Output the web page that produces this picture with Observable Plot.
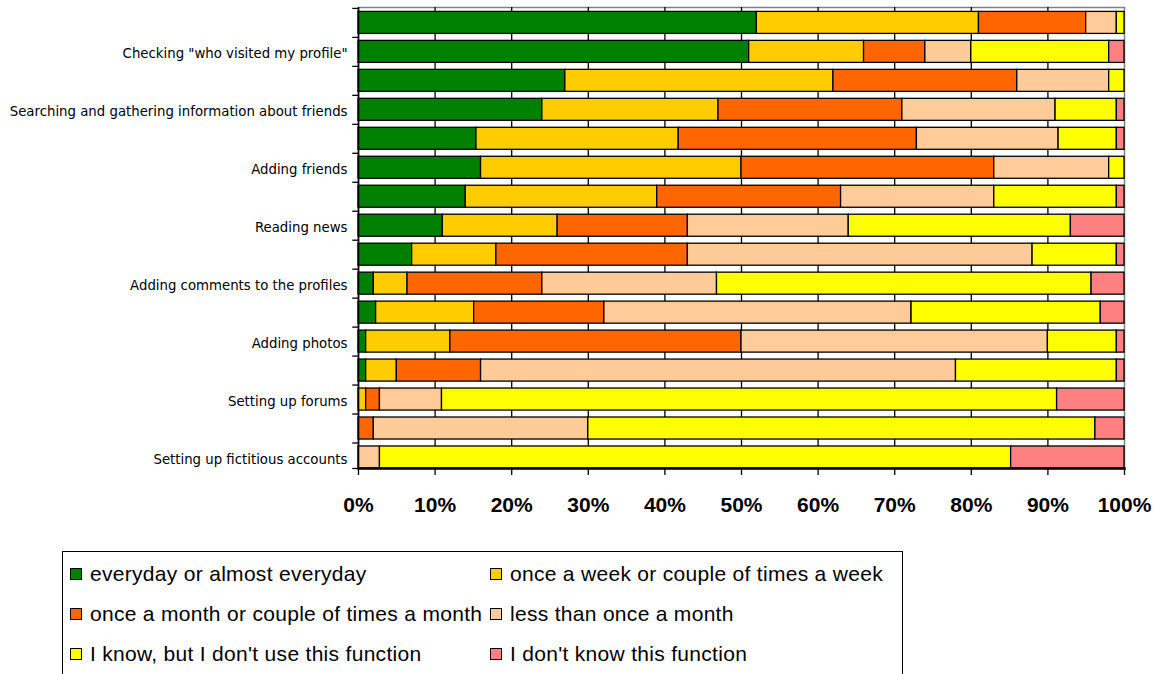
<!DOCTYPE html>
<html>
<head>
<meta charset="utf-8">
<script src="https://cdn.jsdelivr.net/npm/d3@7"></script>
<script src="https://cdn.jsdelivr.net/npm/@observablehq/plot@0.6"></script>
<style>
  html, body { margin: 0; padding: 0; background: #fff; overflow: hidden; }
  #chart { position: absolute; left: 0; top: 0; }
  #legend {
    position: absolute; left: 62px; top: 551px; width: 841px; height: 150px;
    border: 1px solid #000; box-sizing: border-box;
    font-family: "Liberation Sans", Arial, sans-serif; font-size: 21px; letter-spacing: 0.3px; color: #000;
  }
  .item { position: absolute; display: flex; align-items: center; white-space: nowrap; height: 24px; }
  .sw { width: 10px; height: 10px; border: 1px solid #000; margin-right: 8px; flex: none; }
</style>
</head>
<body>
<div id="chart"></div>
<div id="legend"></div>
<script>
// Functions of the social network site, top to bottom (only every other one is labelled on the axis)
const labels = [
  "", 'Checking "who visited my profile"', "", "Searching and gathering information about friends",
  "", "Adding friends", "", "Reading news",
  "", "Adding comments to the profiles", "", "Adding photos",
  "", "Setting up forums", "", "Setting up fictitious accounts"
];

// Frequency of use (% of respondents)
const responses = [
  "everyday or almost everyday",
  "once a week or couple of times a week",
  "once a month or couple of times a month",
  "less than once a month",
  "I know, but I don't use this function",
  "I don't know this function"
];
const colors = ["#008000", "#FFCC00", "#FF6600", "#FFCC99", "#FFFF00", "#FF8080"];

const everyday    = [52, 51, 27, 24, 15.4, 16, 14, 11, 7, 2, 2.3, 1, 1, 0, 0, 0];
const weekly      = [29, 15, 35, 23, 26.4, 34, 25, 15, 11, 4.4, 12.8, 11, 4, 1, 0, 0];
const monthly     = [14, 8, 24, 24, 31.1, 33, 24, 17, 25, 17.6, 17, 38, 11, 1.8, 2, 0];
const lessMonthly = [4, 6, 12, 20, 18.5, 15, 20, 21, 45, 22.8, 40.1, 40, 62, 8.1, 28, 2.8];
const knowUnused  = [1, 18, 2, 8, 7.6, 2, 16, 29, 11, 48.9, 24.7, 9, 21, 80.3, 66.2, 82.4];
const unknown     = [0, 2, 0, 1, 1, 0, 1, 7, 1, 4.3, 3.1, 1, 1, 8.8, 3.8, 14.8];

const xTicks = [0, 10, 20, 30, 40, 50, 60, 70, 80, 90, 100];

// Long-format table for the stacked bars
const series = [everyday, weekly, monthly, lessMonthly, knowUnused, unknown];
const rows = [];
labels.forEach((_, i) => {
  series.forEach((vals, k) => {
    if (vals[i] > 0) rows.push({row: i, response: responses[k], value: vals[i]});
  });
});

const W = 1156, H = 540, mt = 7, mb = 72;
const pIn = 0.24, pOut = 0.076;
const n = labels.length;
const step = (H - mt - mb) / (n - pIn + 2 * pOut);
const bw = step * (1 - pIn);
const rowIdx = d3.range(n);

const chart = Plot.plot({
  width: W, height: H,
  marginLeft: 358, marginRight: 32, marginTop: mt, marginBottom: mb,
  style: {fontFamily: "'Liberation Sans', Arial, sans-serif", background: "#fff", color: "#000", overflow: "visible"},
  x: {domain: [0, 100], label: null},
  y: {type: "band", domain: rowIdx, paddingInner: pIn, paddingOuter: pOut, align: 1, round: false, label: null},
  color: {domain: responses, range: colors},
  marks: [
    Plot.frame({stroke: "#808080", strokeWidth: 1.5}),
    Plot.ruleX(xTicks.slice(1, -1), {stroke: "#000", strokeWidth: 1.3}),
    Plot.barX(rows, Plot.stackX({
      x: "value", y: "row", fill: "response", order: responses,
      stroke: "#000", strokeWidth: 1.3
    })),
    // category tick marks sit between the bars
    Plot.ruleY(rowIdx, {y: d => d, x1: -0.75, x2: 0, dy: -step / 2, stroke: "#000", strokeWidth: 1.3}),
    Plot.ruleY([n - 1], {y: d => d, x1: -0.75, x2: 0, dy: bw / 2, stroke: "#000", strokeWidth: 1.3}),
    Plot.ruleX([0], {stroke: "#000", strokeWidth: 1.6}),
    Plot.frame({anchor: "bottom", stroke: "#000", strokeWidth: 2.4}),
    Plot.axisX({
      ticks: xTicks, tickFormat: d => d + "%", tickSize: 7, tickPadding: 22,
      fontSize: 21, fontWeight: "bold", strokeWidth: 1.3, label: null
    }),
    Plot.axisY({
      tickSize: 0, tickPadding: 11, tickFormat: i => labels[i], label: null, dy: 2,
      fontSize: 13.3, fontFamily: "'DejaVu Sans', sans-serif"
    })
  ]
});
document.getElementById("chart").appendChild(chart);

// Legend: two columns, three rows
const legend = d3.select("#legend");
responses.forEach((r, k) => {
  const col = k % 2, line = Math.floor(k / 2);
  const item = legend.append("div").attr("class", "item")
    .style("left", (col ? 427 : 7) + "px")
    .style("top", (10 + line * 40) + "px");
  item.append("div").attr("class", "sw").style("background", colors[k]);
  item.append("span").text(r);
});
</script>
</body>
</html>
